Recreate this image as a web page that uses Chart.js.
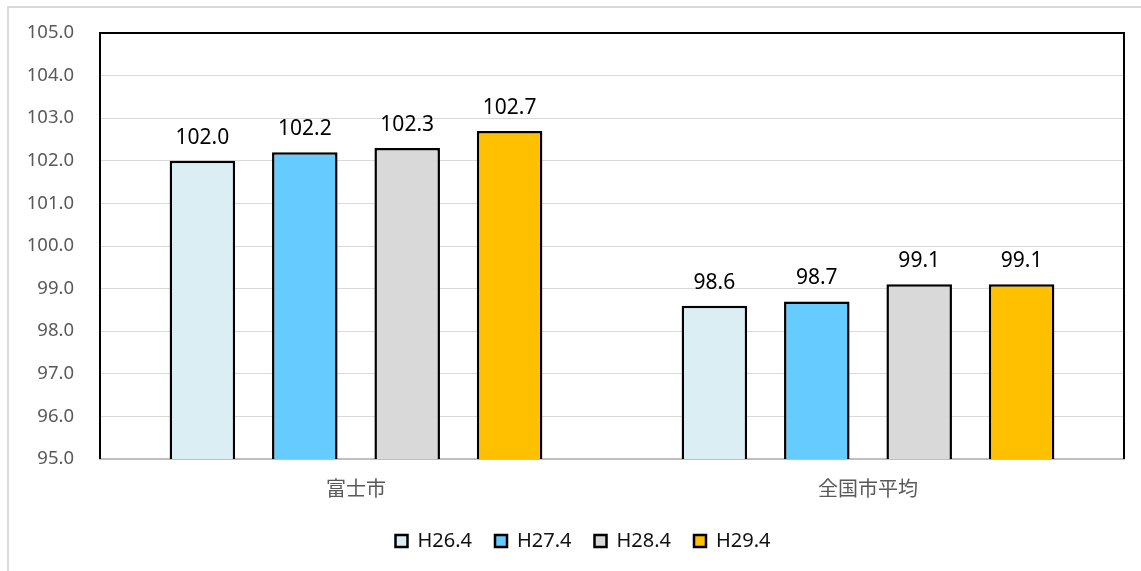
<!DOCTYPE html>
<html>
<head>
<meta charset="utf-8">
<script src="https://cdn.jsdelivr.net/npm/chart.js@4"></script>
<style>
  html, body { margin: 0; padding: 0; overflow: hidden; background: #fff; }
  #frame { position: absolute; left: 7px; top: 6px; width: 1200px; height: 700px; border: 2px solid #d9d9d9; }
  #chart { position: absolute; left: 0; top: 0; }
</style>
</head>
<body>
<div id="frame"></div>
<canvas id="chart" width="1141" height="571"></canvas>
<script>
// ── Data ─────────────────────────────────────────────────────────────
const categories = ['富士市', '全国市平均'];
const seriesLabels = ['H26.4', 'H27.4', 'H28.4', 'H29.4'];
const h26 = [102.0, 98.6];
const h27 = [102.2, 98.7];
const h28 = [102.3, 99.1];
const h29 = [102.7, 99.1];
const yTicks = [95, 96, 97, 98, 99, 100, 101, 102, 103, 104, 105];

const seriesColors = ['#DAEEF3', '#66CCFF', '#D9D9D9', '#FFC000'];
const seriesValues = [h26, h27, h28, h29];

// value labels above each bar
const barLabels = {
    id: 'barLabels',
    afterDatasetsDraw(chart) {
        const ctx = chart.ctx;
        ctx.save();
        ctx.font = '21px "Noto Sans", sans-serif';
        ctx.fillStyle = '#000';
        ctx.textAlign = 'center';
        ctx.textBaseline = 'alphabetic';
        chart.data.datasets.forEach((ds, i) => {
            chart.getDatasetMeta(i).data.forEach((bar, j) => {
                ctx.fillText(ds.data[j].toFixed(1), bar.x, bar.y - 17);
            });
        });
        ctx.restore();
    }
};

// black frame on top / left / right of the plot area
const plotFrame = {
    id: 'plotFrame',
    afterLayout(chart) {
        // nudge legend to the right like the original
        chart.legend.left += 21;
        chart.legend.right += 21;
    },
    afterDraw(chart) {
        const { left, right, top, bottom } = chart.chartArea;
        const ctx = chart.ctx;
        ctx.save();
        ctx.strokeStyle = '#000';
        ctx.lineWidth = 2;
        ctx.beginPath();
        ctx.moveTo(left, bottom);
        ctx.lineTo(left, top);
        ctx.lineTo(right, top);
        ctx.lineTo(right, bottom);
        ctx.stroke();
        ctx.restore();
    }
};

new Chart(document.getElementById('chart').getContext('2d'), {
    type: 'bar',
    data: {
        labels: categories,
        datasets: seriesLabels.map((label, i) => ({
            label: label,
            data: seriesValues[i],
            backgroundColor: seriesColors[i],
            borderColor: '#000',
            borderWidth: 2.5,
            categoryPercentage: 0.8,
            barPercentage: 0.64
        }))
    },
    options: {
        responsive: false,
        animation: false,
        devicePixelRatio: 1,
        layout: { padding: { left: 0, right: 17, top: 33, bottom: 10 } },
        plugins: {
            tooltip: { enabled: false },
            legend: {
                position: 'bottom',
                labels: {
                    boxWidth: 12,
                    boxHeight: 12,
                    padding: 23,
                    color: '#111',
                    font: { family: '"Noto Sans", sans-serif', size: 20 }
                }
            }
        },
        scales: {
            x: {
                grid: { display: false, drawTicks: false },
                border: { color: '#bfbfbf', width: 2 },
                ticks: {
                    color: '#595959',
                    padding: 17,
                    font: { family: '"Noto Sans CJK JP", sans-serif', size: 20 }
                },
                afterFit(scale) { scale.height = 49; }
            },
            y: {
                min: 95,
                max: 105,
                afterBuildTicks(scale) { scale.ticks = yTicks.map(v => ({ value: v })); },
                grid: { color: '#d9d9d9', lineWidth: 1, drawTicks: false },
                border: { display: false },
                ticks: {
                    color: '#595959',
                    padding: 26,
                    font: { family: '"Noto Sans", sans-serif', size: 18.5 },
                    callback: v => v.toFixed(1)
                },
                afterFit(scale) {
                    scale.width = 100;
                    scale.paddingTop = 0;
                    scale.paddingBottom = 0;
                }
            }
        }
    },
    plugins: [barLabels, plotFrame]
});
</script>
</body>
</html>
